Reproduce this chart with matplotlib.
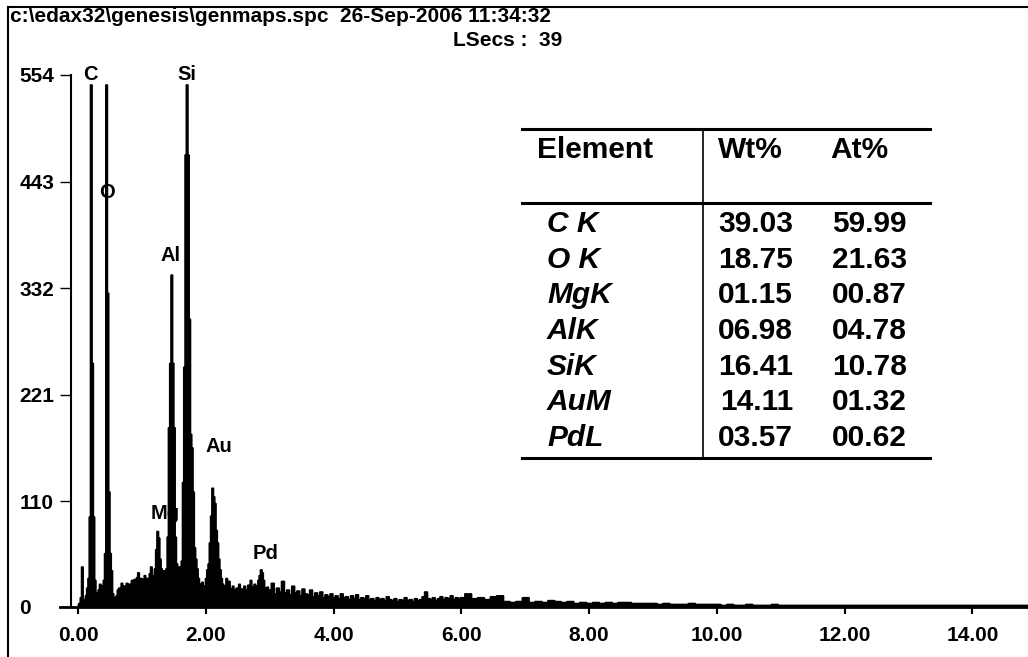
import numpy as np
import matplotlib
matplotlib.use("Agg")
import matplotlib.pyplot as plt
from matplotlib.lines import Line2D

plt.rcParams['font.family'] = ['Liberation Sans', 'DejaVu Sans']
plt.rcParams['font.weight'] = 'bold'

## Spectrum counts
# 0.00 - 2.98 keV, 0.02 keV channels
counts_low = [3, 4, 10, 42, 6, 8, 12, 20, 30, 94,
              544, 254, 94, 28, 15, 10, 18, 24, 12, 22,
              28, 56, 544, 327, 120, 56, 38, 14, 8, 10,
              12, 18, 20, 17, 25, 19, 22, 20, 25, 23,
              24, 21, 28, 24, 29, 26, 31, 36, 27, 30,
              29, 25, 33, 28, 30, 27, 35, 42, 30, 33,
              40, 60, 79, 72, 50, 40, 36, 38, 34, 40,
              73, 187, 254, 346, 254, 187, 73, 45, 40, 42,
              38, 48, 130, 250, 471, 544, 471, 300, 180, 166,
              120, 62, 50, 40, 30, 24, 21, 26, 19, 22,
              30, 39, 45, 67, 95, 124, 115, 108, 80, 67,
              50, 39, 30, 24, 20, 22, 30, 24, 27, 19,
              17, 22, 18, 15, 20, 16, 24, 17, 19, 15,
              22, 18, 16, 23, 19, 28, 21, 17, 24, 20,
              22, 28, 33, 39, 36, 28, 20, 18, 21, 15]
# 3.00 - 5.96 keV, 0.04 keV channels
counts_mid = [18, 25, 14, 20, 16, 27, 15, 18, 13, 22,
              15, 17, 12, 19, 14, 13, 18, 11, 15, 12,
              16, 10, 13, 11, 14, 10, 12, 9, 14, 10,
              11, 8, 12, 9, 13, 8, 10, 9, 12, 8,
              9, 7, 10, 8, 9, 7, 11, 8, 7, 9,
              6, 8, 7, 10, 7, 8, 6, 9, 7, 8,
              11, 16, 9, 8, 10, 7, 9, 11, 8, 10,
              9, 12, 8, 10, 9]
# 6.0 - 14.9 keV, 0.1 keV channels
counts_high = [10, 14, 9, 10, 8, 11, 12, 6, 5, 6,
               10, 5, 6, 5, 7, 6, 5, 6, 4, 5,
               4, 5, 4, 5, 4, 5, 5, 4, 4, 4,
               4, 3, 4, 3, 3, 3, 4, 3, 3, 3,
               3, 2, 3, 2, 2, 3, 2, 2, 2, 3,
               2, 2, 2, 2, 2, 2, 2, 2, 2, 2,
               2, 2, 2, 2, 2, 2, 2, 2, 2, 2,
               2, 2, 2, 2, 2, 2, 2, 2, 2, 2,
               2, 2, 2, 2, 2, 2, 2, 2, 2, 2]

kev_low = np.arange(len(counts_low)) * 0.02
kev_mid = 3.0 + np.arange(len(counts_mid)) * 0.04
kev_high = 6.0 + np.arange(len(counts_high)) * 0.1

x_ticks = [0, 2, 4, 6, 8, 10, 12, 14]
x_labels = ['0.00', '2.00', '4.00', '6.00', '8.00', '10.00', '12.00', '14.00']
y_ticks = [0, 110, 221, 332, 443, 554]

# peak labels (name, keV, counts)
peak_names = ['C', 'O', 'Al', 'Si', 'Au', 'Pd']
peak_kev = [0.19, 0.46, 1.45, 1.71, 2.21, 2.93]
peak_cnt = [554, 432, 366, 554, 167, 56]

# quantification table
elements = ['C K', 'O K', 'MgK', 'AlK', 'SiK', 'AuM', 'PdL']
wt_pct = ['39.03', '18.75', '01.15', '06.98', '16.41', '14.11', '03.57']
at_pct = ['59.99', '21.63', '00.87', '04.78', '10.78', '01.32', '00.62']

title = 'c:\\edax32\\genesis\\genmaps.spc  26-Sep-2006 11:34:32'
live_time = 'LSecs :  39'

W, H = 1028, 657
fig = plt.figure(figsize=(W / 100, H / 100), dpi=100)
ax = fig.add_axes([60 / W, 1 - 607 / H, 1 - 60 / W, (607 - 75) / H])

kev = np.concatenate([kev_low, kev_mid, kev_high])
counts = np.concatenate([counts_low, counts_mid, counts_high])
ax.fill_between(kev, counts, step='mid', color='black', lw=1.4, zorder=3)

ax.set_xlim(-0.282, 14.87)
ax.set_ylim(0, 554)
ax.spines['top'].set_visible(False)
ax.spines['right'].set_visible(False)
ax.spines['left'].set_position(('data', -0.11))
ax.spines['left'].set_linewidth(1.5)
ax.spines['bottom'].set_linewidth(2.0)

ax.set_xticks(x_ticks)
ax.set_xticklabels(x_labels, fontsize=15, fontweight='bold')
ax.tick_params(axis='x', direction='out', length=5, width=1.5, pad=9)
ax.set_yticks(y_ticks)
ax.set_yticklabels([str(v) for v in y_ticks], fontsize=15, fontweight='bold')
ax.tick_params(axis='y', direction='out', length=8, width=1, pad=29)
for lab in ax.get_yticklabels():
    lab.set_horizontalalignment('left')

for name, e, c in zip(peak_names, peak_kev, peak_cnt):
    ax.text(e, c, name, ha='center', va='center', fontsize=14.5,
            fontweight='bold', zorder=4)
# Mg label sits behind the Al peak
ax.text(1.36, 97, 'Mg', ha='center', va='center', fontsize=14.5,
        fontweight='bold', zorder=2)

# header text
fig.text(10 / W, 1 - 17 / H, title, ha='left', va='center', fontsize=15,
         fontweight='bold')
fig.text(562 / W, 1 - 40 / H, live_time, ha='right', va='center', fontsize=15,
         fontweight='bold')

# outer frame (top and left)
fig.add_artist(Line2D([8 / W, 1], [1 - 7 / H, 1 - 7 / H], color='black', lw=1.5))
fig.add_artist(Line2D([8 / W, 8 / W], [0, 1 - 7 / H], color='black', lw=1.5))

# table
tx0, tx1, tvx = 522 / W, 930 / W, 703 / W
fig.add_artist(Line2D([tx0, tx1], [1 - 129 / H] * 2, color='black', lw=2.2))
fig.add_artist(Line2D([tx0, tx1], [1 - 203 / H] * 2, color='black', lw=2.2))
fig.add_artist(Line2D([tx0, tx1], [1 - 458 / H] * 2, color='black', lw=2.2))
fig.add_artist(Line2D([tvx, tvx], [1 - 458 / H, 1 - 129 / H], color='black', lw=1.2))

fs = 21.5
fig.text(537 / W, 1 - 150 / H, 'Element', ha='left', va='center', fontsize=fs,
         fontweight='bold')
fig.text(718 / W, 1 - 150 / H, 'Wt%', ha='left', va='center', fontsize=fs,
         fontweight='bold')
fig.text(830 / W, 1 - 150 / H, 'At%', ha='left', va='center', fontsize=fs,
         fontweight='bold')
for i, (el, wt, at) in enumerate(zip(elements, wt_pct, at_pct)):
    yy = 1 - (224 + 35.7 * i) / H
    fig.text(547 / W, yy, el, ha='left', va='center', fontsize=fs,
             fontweight='bold', fontstyle='italic')
    fig.text(793 / W, yy, wt, ha='right', va='center', fontsize=fs,
             fontweight='bold')
    fig.text(907 / W, yy, at, ha='right', va='center', fontsize=fs,
             fontweight='bold')

fig.savefig('out.png', dpi=100)
